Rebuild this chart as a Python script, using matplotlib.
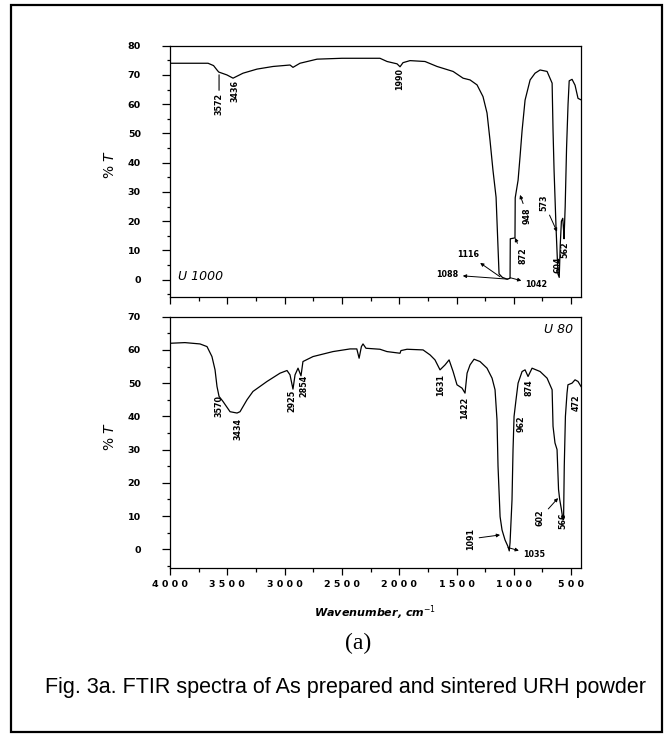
import matplotlib.pyplot as plt
from matplotlib.patches import Rectangle
from matplotlib.ticker import MultipleLocator, FixedLocator

# 烧结样品 U 1000 的红外谱 (波数, %T)
wn_u1000 = [4000, 3668, 3620, 3590, 3575, 3503, 3450, 3363, 3241, 3101, 2953, 2927,
            2866, 2717, 2500, 2168, 2106, 2019, 1993, 1967, 1906, 1775, 1670, 1530,
            1443, 1382, 1321, 1269, 1234, 1208, 1182, 1155, 1138, 1129, 1100, 1059,
            1033, 1031, 990, 988, 963, 946, 928, 902, 858, 815, 771, 710, 666, 658,
            649, 632, 615, 604, 595, 585, 573, 566, 562, 552, 540, 527, 517, 492,
            466, 440, 414]
t_u1000 = [74, 74, 73.2, 71.7, 71.0, 70, 68.9, 70.6, 72, 72.9, 73.4, 72.6,
           74, 75.4, 75.7, 75.7, 74.6, 73.8, 72.8, 74.2, 74.9, 74.6, 72.9, 71.2,
           68.9, 68.3, 66.6, 62.6, 57, 47.7, 37.4, 28.2, 11, 2, 0.8, 0.2,
           0.5, 14, 14.3, 28, 34, 42, 51, 61.4, 68.3, 70.6, 71.7, 71.2, 67.2, 51,
           37.4, 18, 2, 0.8, 12, 20, 21, 17, 14, 25, 45, 60, 68, 68.5,
           66.5, 62, 61.5]

# 原样 U 80 的红外谱
wn_u80 = [4000, 3870, 3738, 3677, 3634, 3607, 3590, 3572, 3538, 3476, 3415, 3389,
          3328, 3276, 3154, 3040, 2979, 2953, 2927, 2909, 2883, 2857, 2840, 2752,
          2578, 2429, 2370, 2350, 2330, 2316, 2290, 2168, 2107, 1993, 1985, 1932,
          1792, 1731, 1688, 1644, 1600, 1565, 1530, 1496, 1452, 1426, 1408, 1382,
          1347, 1295, 1234, 1190, 1164, 1147, 1138, 1120, 1103, 1077, 1051, 1040,
          1033, 1016, 1007, 998, 981, 963, 928, 902, 876, 841, 771, 710, 666, 658,
          641, 623, 610, 600, 585, 572, 566, 560, 550, 536, 528, 492, 466, 440, 414]
t_u80 = [62, 62.2, 61.8, 61, 58, 54, 49, 46, 44.5, 41.4, 41, 41.4,
         45, 47.5, 50.5, 53, 53.8, 52.5, 48.2, 52.5, 54.5, 52.2, 56.5, 58,
         59.5, 60.3, 60.3, 57.5, 61, 61.8, 60.5, 60.2, 59.5, 59, 59.8, 60.2,
         60, 58.5, 57, 54, 55.5, 57, 53.5, 49.5, 48.5, 47, 53, 55.5,
         57.2, 56.5, 54.5, 51.5, 48, 39, 25, 9.8, 5.8, 2.8, 0.8, -0.5,
         2, 14.8, 30, 40, 45, 50, 53.5, 54, 52, 54.5, 53.5, 51.5, 48, 37,
         32, 30, 18, 15, 12, 9, 9, 25, 40, 47, 49.5, 50, 51, 50.5, 49]

x_ticks = [4000, 3500, 3000, 2500, 2000, 1500, 1000, 500]
x_tick_labels = ['4 0 0 0', '3 5 0 0', '3 0 0 0', '2 5 0 0', '2 0 0 0', '1 5 0 0', '1 0 0 0', '5 0 0']

# 竖排峰位标注: (文字, 波数, 标签顶端 %T)
peaks_u1000 = [('3572', 3572, 63.8), ('3436', 3436, 68.3), ('1990', 1993, 72.4),
               ('604', 619, 7.8), ('562', 557, 13.0)]
peaks_u80 = [('3570', 3572, 46.5), ('3434', 3411, 39.5), ('2925', 2940, 48),
             ('2854', 2835, 52.5), ('1631', 1635, 52.8), ('1422', 1426, 46),
             ('962', 933, 40.4), ('874', 872, 51), ('472', 453, 46.5), ('566', 575, 11)]

# 带箭头的标注: (文字, 曲线处波数, %T, 标签波数, %T, 旋转, 箭头朝向曲线?)
arrows_u1000 = [('948', 946, 29, 881, 21.8, 90, True),
                ('872', 990, 14.3, 920, 8.2, 90, True),
                ('573', 623, 16.4, 737, 26.3, 90, True),
                ('1116', 1120, 1.0, 1395, 8.5, 0, False),
                ('1088', 1051, 0.2, 1579, 1.7, 0, False),
                ('1042', 1033, 0.7, 802, -1.7, 0, False)]
arrows_u80 = [('1091', 1120, 4.3, 1378, 3.1, 90, True),
              ('1035', 1051, 0.5, 824, -1.7, 0, False),
              ('602', 614, 15.4, 771, 9.4, 90, True)]

W, H = 671, 735
fig = plt.figure(figsize=(W / 100, H / 100), dpi=100)
fig.patches.append(Rectangle((11 / W, 1 - 732 / H), 651 / W, 727 / H, transform=fig.transFigure,
                             fill=False, edgecolor='black', linewidth=1.6))

ax1 = fig.add_axes([170 / W, 1 - 296.7 / H, 411 / W, 251 / H])
ax2 = fig.add_axes([170 / W, 1 - 567.5 / H, 411 / W, 250.8 / H])

tick_font = dict(family='DejaVu Sans', weight='bold', size=6.8)
peak_font = dict(family='DejaVu Sans', weight='heavy', size=5.8)


def style_axis(ax, ymax, ymin, show_xlabels):
    ax.plot(wn_u1000 if ax is ax1 else wn_u80, t_u1000 if ax is ax1 else t_u80,
            color='black', linewidth=0.9)
    ax.set_xlim(4000, 414)
    ax.set_ylim(ymin, ymax)
    ax.xaxis.set_major_locator(FixedLocator(x_ticks))
    ax.xaxis.set_minor_locator(MultipleLocator(250))
    ax.yaxis.set_major_locator(MultipleLocator(10))
    ax.yaxis.set_minor_locator(MultipleLocator(5))
    ax.tick_params(axis='y', which='major', direction='out', length=6, width=0.9, pad=15)
    ax.tick_params(axis='y', which='minor', direction='out', length=2.4, width=0.9)
    ax.tick_params(axis='x', which='major', direction='out', length=5, width=0.9, pad=4)
    ax.tick_params(axis='x', which='minor', direction='out', length=3, width=0.9)
    for sp in ax.spines.values():
        sp.set_linewidth(0.9)
    for lab in ax.get_yticklabels():
        lab.set(**tick_font)
    if show_xlabels:
        ax.set_xticklabels(x_tick_labels, **tick_font)
    else:
        ax.set_xticklabels([])


def draw_peaks(ax, peaks, arrows):
    for text, x, y in peaks:
        ax.text(x, y, text, rotation=90, ha='center', va='top', **peak_font)
    for text, x0, y0, x1, y1, rot, head_at_curve in arrows:
        ax.annotate(text, xy=(x0, y0), xytext=(x1, y1), rotation=rot, ha='center', va='center',
                    arrowprops=dict(arrowstyle='-|>' if head_at_curve else '<|-', color='black',
                                    linewidth=0.7, mutation_scale=5, shrinkA=1, shrinkB=0),
                    **peak_font)


style_axis(ax1, 80, -5.8, False)
style_axis(ax2, 70, -5.5, True)
draw_peaks(ax1, peaks_u1000, arrows_u1000)
draw_peaks(ax2, peaks_u80, arrows_u80)
ax1.annotate('', xy=(3572, 71), xytext=(3572, 63.8),
             arrowprops=dict(arrowstyle='-', color='black', linewidth=0.8))

ax1.text(3930, 1.2, 'U 1000', style='italic', fontsize=9, ha='left', va='center', family='DejaVu Sans')
ax2.text(483, 66, 'U 80', style='italic', fontsize=9, ha='right', va='center', family='DejaVu Sans')

for yc in (165, 437):
    fig.text(110 / W, 1 - yc / H, '% $\\mathbf{\\mathit{T}}$', rotation=90, ha='center', va='center',
             fontsize=10, family='DejaVu Sans')

fig.text(375 / W, 1 - 613 / H, 'Wavenumber, cm$^{-1}$', ha='center', va='center',
         fontsize=8, weight='bold', style='italic', family='DejaVu Sans')
fig.text(358 / W, 1 - 643 / H, '(a)', ha='center', va='center', fontsize=17, family='Liberation Serif')
fig.text(345.5 / W, 1 - 688 / H, 'Fig. 3a. FTIR spectra of As prepared and sintered URH powder',
         ha='center', va='center', fontsize=15.5, family='Liberation Sans')

plt.savefig('out.png', dpi=100)
